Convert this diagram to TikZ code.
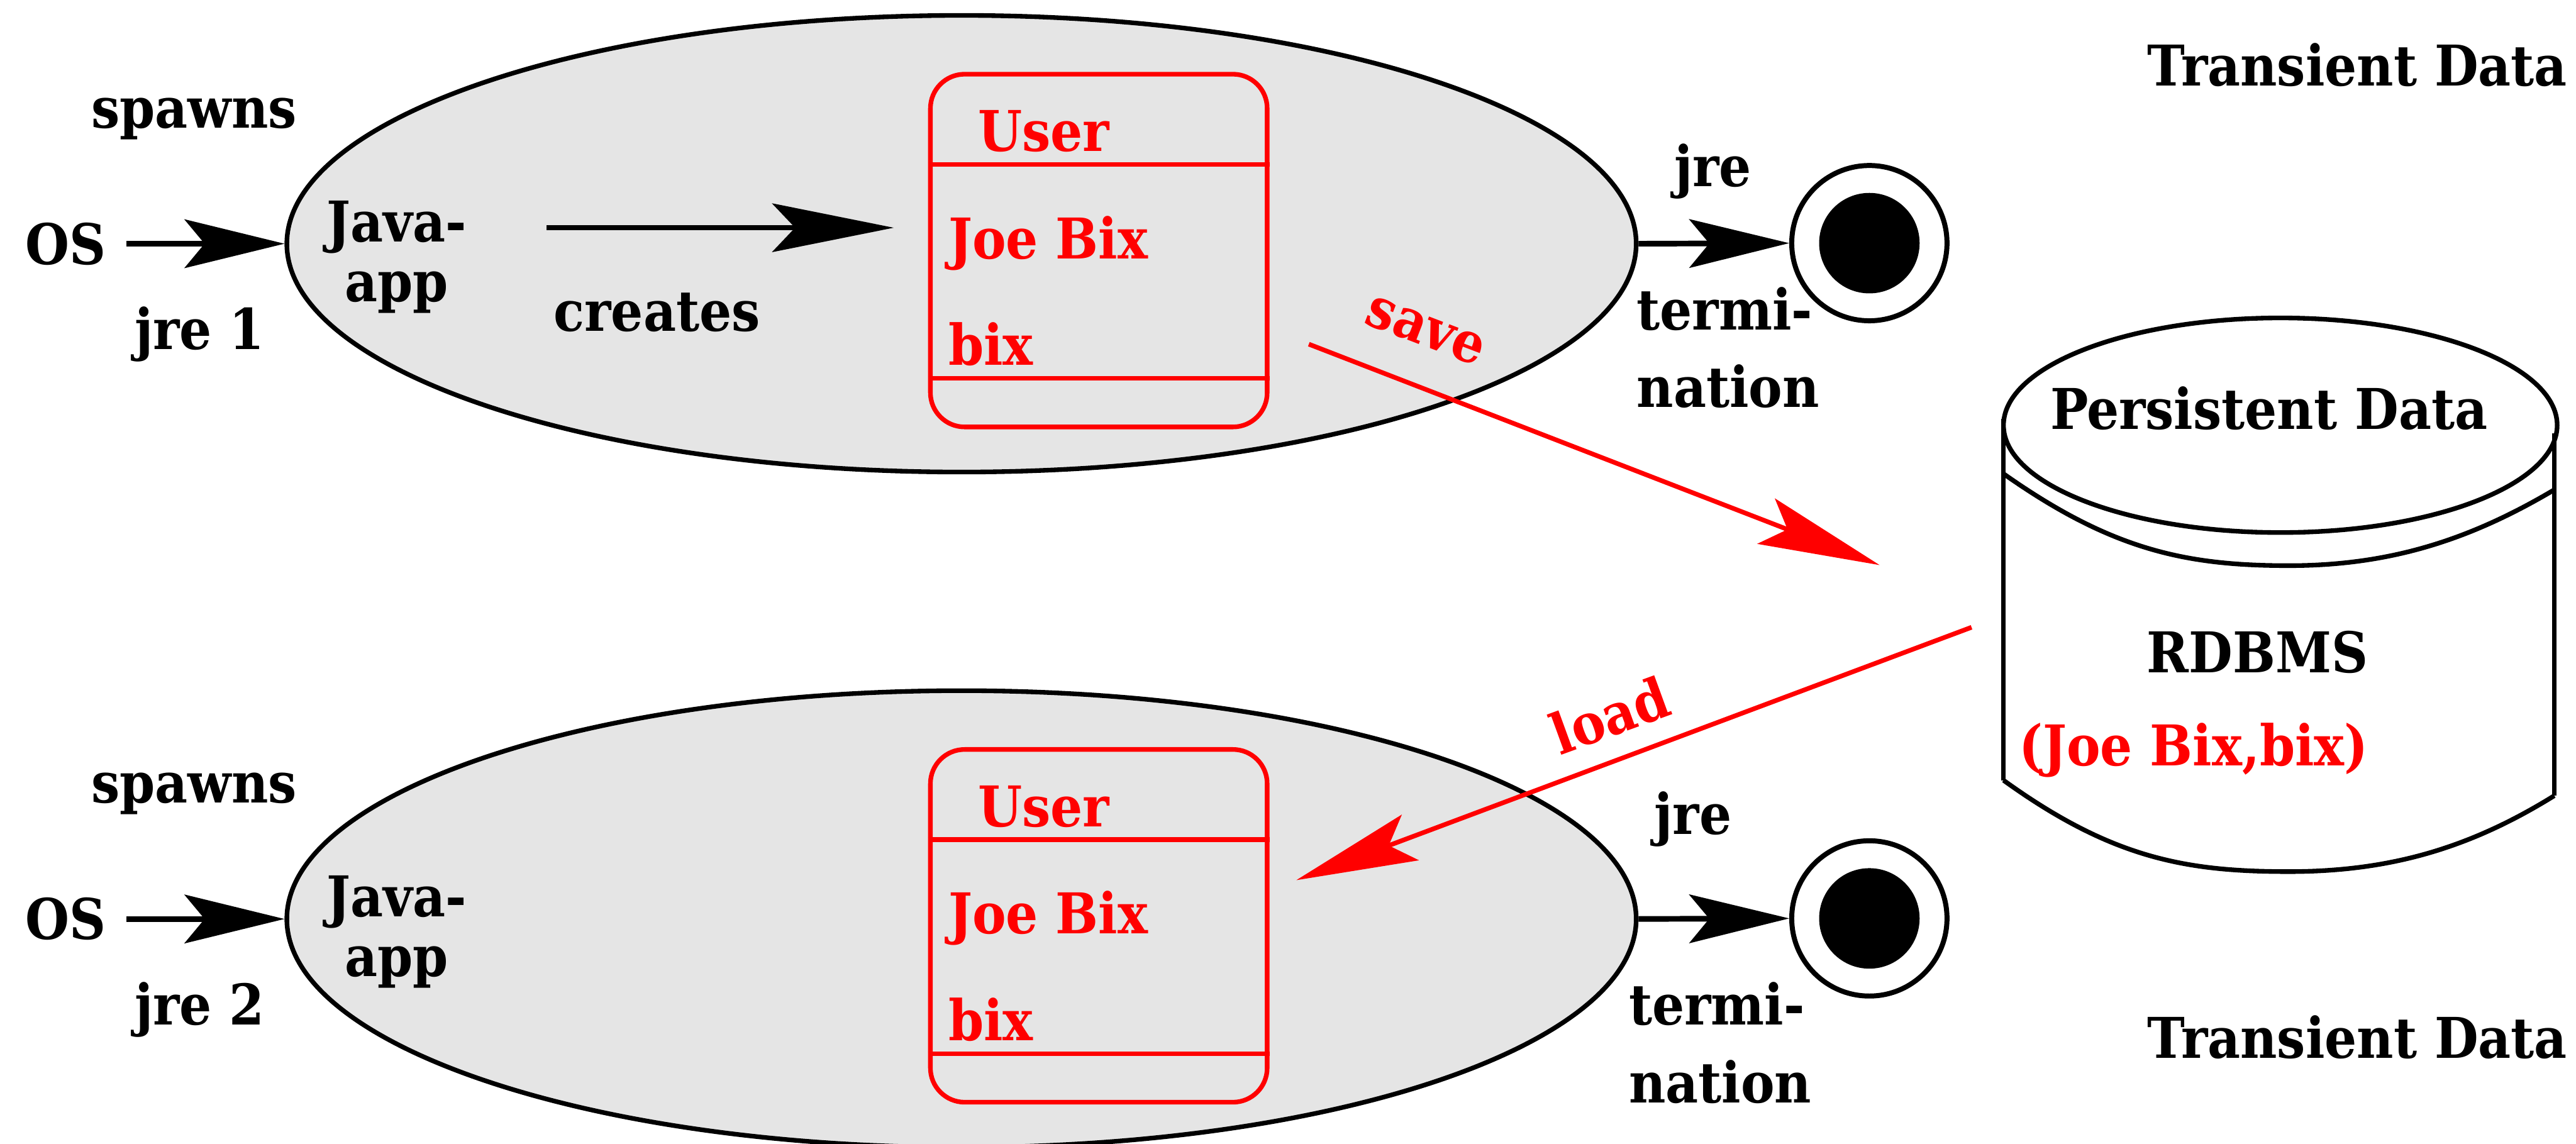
\documentclass[tikz,border=0pt]{standalone}
\usepackage{fontspec}
\setmainfont{DejaVu Serif Condensed}
\usetikzlibrary{arrows.meta,shapes.geometric}

\begin{document}
\begin{tikzpicture}[
	txt/.style={font=\fontsize{28}{34}\selectfont\bfseries, inner sep=0pt},
	rtxt/.style={txt, text=red},
	proc/.style={ellipse, draw, line width=2.3pt, fill=black!10, minimum width=23.64cm, minimum height=8cm, inner sep=0pt},
	obj/.style={draw=red, line width=2.3pt, rounded corners=0.6cm, minimum width=5.9cm, minimum height=6.18cm, inner sep=0pt},
	sep/.style={red, line width=2.3pt},
	flow/.style={line width=2.8pt, -{Stealth[length=1.75cm, width=0.85cm, inset=0.35cm]}},
	bigflow/.style={line width=2.6pt, -{Stealth[length=2.13cm, width=0.85cm, inset=0.4cm]}},
	dbflow/.style={red, line width=2.3pt, -{Stealth[length=2.13cm, width=0.85cm, inset=0.4cm]}},
	final/.style={circle, draw, line width=2.5pt, fill=white, minimum size=2.72cm, inner sep=0pt},
]
	%\draw[help lines] (0,0) grid (45,20);
	\useasboundingbox (0,0) rectangle (45.13,20.04);

	% first run (jre 1)
	\node[proc] (app1) at (16.845,15.77) {};
	\node[txt, anchor=north, align=center] (java1) at (6.95,16.53) {Java-\\[-0.15cm]app};
	\node[txt, anchor=base] (spawns1) at (3.40,17.80) {spawns};
	\node[txt, anchor=base] (os1) at (1.15,15.41) {OS};
	\node[txt, anchor=base] (jre1) at (3.50,13.92) {jre 1};
	\node[txt, anchor=base] (creates1) at (11.51,14.24) {creates};
	\node[obj] (user1) at (19.25,15.65) {};
	\draw[sep] ([yshift=-1.62cm]user1.north west) -- ([yshift=-1.62cm]user1.north east);
	\draw[sep] ([yshift=-5.37cm]user1.north west) -- ([yshift=-5.37cm]user1.north east);
	\node[rtxt, anchor=base west] (name1) at (17.13,17.39) {User};
	\node[rtxt, anchor=base west] (full1) at (16.61,15.51) {Joe Bix};
	\node[rtxt, anchor=base west] (login1) at (16.61,13.64) {bix};
	\node[final] (end1) at (32.75,15.78) {};
	\fill (end1) circle (0.88);
	\node[txt, anchor=base] (jre1b) at (30.01,16.77) {jre};
	\node[txt, anchor=north west, align=left] (term1) at (28.67,15.02) {termi-\\[0.17cm]nation};
	\node[txt, anchor=base] (trans1) at (41.30,18.54) {Transient Data};
	\coordinate (cr1) at (9.58,16.05);
	\draw[flow, shorten <=0.35cm] (os1.east |- app1.west) -- (app1.west);
	\draw[bigflow, shorten >=0.6cm] (cr1) -- (cr1 -| user1.west);
	\draw[flow] (app1.east) -- (end1.west);

	% second run (jre 2)
	\node[proc] (app2) at (16.845,3.94) {};
	\node[txt, anchor=north, align=center] (java2) at (6.95,4.70) {Java-\\[-0.15cm]app};
	\node[txt, anchor=base] (spawns2) at (3.40,5.97) {spawns};
	\node[txt, anchor=base] (os2) at (1.15,3.58) {OS};
	\node[txt, anchor=base] (jre2) at (3.50,2.09) {jre 2};
	\node[obj] (user2) at (19.25,3.82) {};
	\draw[sep] ([yshift=-1.62cm]user2.north west) -- ([yshift=-1.62cm]user2.north east);
	\draw[sep] ([yshift=-5.37cm]user2.north west) -- ([yshift=-5.37cm]user2.north east);
	\node[rtxt, anchor=base west] (name2) at (17.13,5.56) {User};
	\node[rtxt, anchor=base west] (full2) at (16.61,3.68) {Joe Bix};
	\node[rtxt, anchor=base west] (login2) at (16.61,1.81) {bix};
	\node[final] (end2) at (32.75,3.95) {};
	\fill (end2) circle (0.88);
	\node[txt, anchor=base] (jre2b) at (29.66,5.42) {jre};
	\node[txt, anchor=north west, align=left] (term2) at (28.53,2.84) {termi-\\[0.17cm]nation};
	\node[txt, anchor=base] (trans2) at (41.30,1.50) {Transient Data};
	\draw[flow, shorten <=0.35cm] (os2.east |- app2.west) -- (app2.west);
	\draw[flow] (app2.east) -- (end2.west);

	% database
	\draw[line width=2.3pt] (39.95,12.59) ellipse (4.85 and 1.88);
	\draw[line width=2.3pt] (35.10,12.70) -- (35.10,6.37);
	\draw[line width=2.3pt] (44.75,12.45) -- (44.75,6.10);
	\draw[line width=2.3pt] (35.10,11.74) .. controls (37.0,10.4) and (38.3,10.13) .. (40.10,10.13) .. controls (41.9,10.13) and (43.3,10.6) .. (44.75,11.46);
	\draw[line width=2.3pt] (35.10,6.37) .. controls (37.0,5.0) and (38.3,4.77) .. (40.10,4.77) .. controls (41.9,4.77) and (43.3,5.2) .. (44.75,6.10);
	\node[txt, anchor=base] (pers) at (39.75,12.52) {Persistent Data};
	\node[txt, anchor=base] (rdbms) at (39.55,8.26) {RDBMS};
	\node[rtxt, anchor=base] (row) at (38.43,6.63) {(Joe Bix,bix)};

	% save / load
	\coordinate (sv1) at (22.93,14.01);
	\coordinate (dbin) at (32.93,10.14);
	\coordinate (dbout) at (34.54,9.05);
	\coordinate (ld2) at (22.71,4.62);
	\draw[dbflow] (sv1) -- (dbin);
	\draw[dbflow] (dbout) -- (ld2);
	\node[rtxt, rotate=-21] (save) at (24.97,14.24) {save};
	\node[rtxt, rotate=20] (load) at (28.20,7.51) {load};
\end{tikzpicture}
\end{document}
